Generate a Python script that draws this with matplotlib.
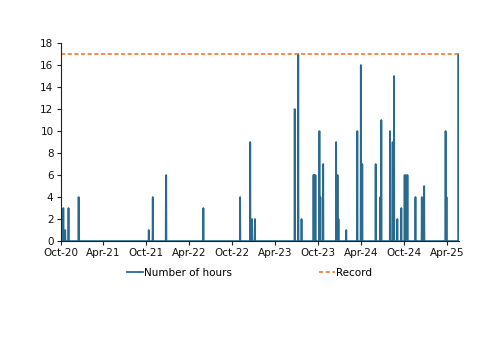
import matplotlib
matplotlib.use("Agg")
import matplotlib.pyplot as plt
import pandas as pd
import numpy as np

# Data: days with non-zero hours (all other days are 0)
spike_dates = [
    "2020-10-13", "2020-10-21", "2020-11-04", "2020-12-17",
    "2021-10-11", "2021-10-28", "2021-12-23", "2021-12-24",
    "2022-05-31", "2022-11-03", "2022-12-16", "2022-12-24", "2023-01-05",
    "2023-06-23", "2023-07-08", "2023-07-22",
    "2023-09-11", "2023-09-14", "2023-09-19", "2023-10-06", "2023-10-10", "2023-10-22",
    "2023-12-16", "2023-12-22", "2023-12-26", "2024-01-28",
    "2024-03-15", "2024-03-30", "2024-04-05",
    "2024-06-01", "2024-06-21", "2024-06-25",
    "2024-08-01", "2024-08-12", "2024-08-18", "2024-09-01", "2024-09-18",
    "2024-10-02", "2024-10-08", "2024-10-14",
    "2024-11-17", "2024-12-14", "2024-12-24",
    "2025-03-25", "2025-03-29", "2025-05-19",
]
spike_hours = [
    3, 1, 3, 4,
    1, 4, 5, 6,
    3, 4, 9, 2, 2,
    12, 17, 2,
    6, 6, 6, 10, 4, 7,
    9, 6, 2, 1,
    10, 16, 7,
    7, 4, 11,
    10, 9, 15, 2, 3,
    6, 6, 6,
    4, 4, 5,
    10, 4, 17,
]
record_value = 17
start_date = "2020-10-01"
end_date = "2025-05-20"
tick_labels = ["Oct-20", "Apr-21", "Oct-21", "Apr-22", "Oct-22",
               "Apr-23", "Oct-23", "Apr-24", "Oct-24", "Apr-25"]

days = pd.date_range(start_date, end_date, freq="D")
series = pd.Series(0.0, index=days)
for d, h in zip(spike_dates, spike_hours):
    series[pd.Timestamp(d)] = h

blue = "#2a6a8f"
orange = "#f47a2e"

fig = plt.figure(figsize=(5.0, 3.53), dpi=100)
ax = fig.add_axes([0.121, 0.317, 0.797, 0.561])

ax.plot(series.index, series.values, color=blue, lw=1.3, label="Number of hours")
ax.plot([days[0], days[-1]], [record_value, record_value], color=orange,
        lw=1.2, ls=(0, (2.5, 1.5)), label="Record")

ax.set_ylim(0, 18)
ax.set_yticks(np.arange(0, 19, 2))
ax.set_xlim(days[0], days[-1] + pd.Timedelta(days=1))
tick_pos = pd.date_range(start_date, periods=len(tick_labels), freq="6MS")
ax.set_xticks(tick_pos)
ax.set_xticklabels(tick_labels)

for s in ["top", "right"]:
    ax.spines[s].set_visible(False)
for s in ["left", "bottom"]:
    ax.spines[s].set_color("#222222")
    ax.spines[s].set_linewidth(0.8)
ax.tick_params(axis="both", labelsize=7.5, length=3, width=0.8, color="#222222",
               labelcolor="#111111", pad=2)

leg = fig.legend(loc="center left", bbox_to_anchor=(0.254, 0.227), ncol=2,
                 frameon=False, fontsize=7.5, handlelength=1.5, handletextpad=0.1,
                 columnspacing=8.4, borderpad=0, borderaxespad=0)

fig.savefig("out.png", dpi=100)
